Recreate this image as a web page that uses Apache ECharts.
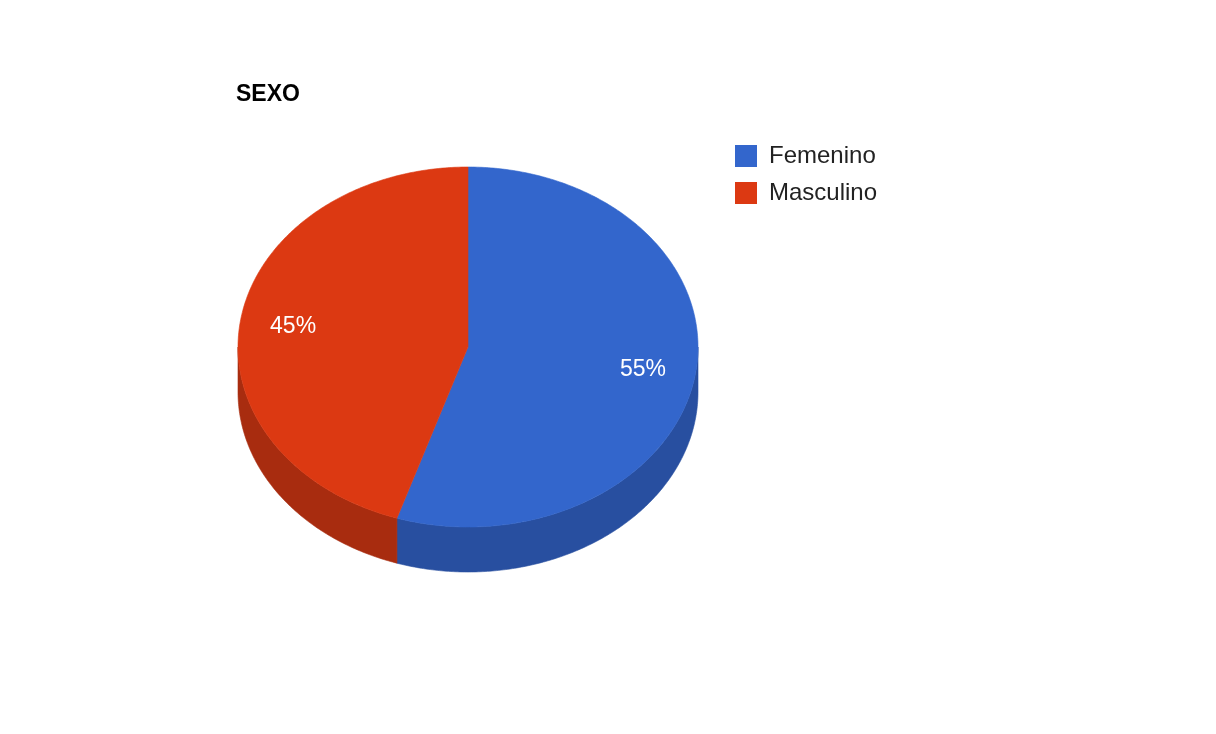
<!DOCTYPE html>
<html>
<head>
<meta charset="utf-8">
<script src="https://cdn.jsdelivr.net/npm/echarts@6/dist/echarts.min.js"></script>
<style>
html,body{margin:0;padding:0;background:#fff;}
#chart{width:1216px;height:734px;}
</style>
</head>
<body>
<div id="chart"></div>
<script>
const categories = ['Femenino', 'Masculino'];
const values = [55, 45];
const colors = ['#3366cc', '#dc3912'];
const sideColors = ['#284fa0', '#a82c0f'];

const total = values.reduce((a, b) => a + b, 0);
const PIE = { cx: 468, cy: 347, rx: 230, ry: 180, depth: 45, labelR: 0.77 };

function pt(theta, dy) {
  return [PIE.cx + PIE.rx * Math.sin(theta), PIE.cy - PIE.ry * Math.cos(theta) + (dy || 0)];
}
function arc(a0, a1, dy) {
  const pts = [];
  const n = Math.max(2, Math.ceil((a1 - a0) / 0.01));
  for (let k = 0; k <= n; k++) pts.push(pt(a0 + (a1 - a0) * k / n, dy));
  return pts;
}

function makeRender(i) {
  return function (params, api) {
    let before = 0;
    for (let j = 0; j < i; j++) before += values[j];
    const v = api.value(0);
    const a0 = before / total * Math.PI * 2;
    const a1 = (before + v) / total * Math.PI * 2;
    const children = [];
    const s = Math.max(a0, Math.PI / 2), e = Math.min(a1, Math.PI * 1.5);
    if (s < e) {
      const top = arc(s, e, 0);
      const bot = arc(s, e, PIE.depth).reverse();
      children.push({
        type: 'polygon',
        shape: { points: top.concat(bot) },
        style: { fill: sideColors[i], stroke: sideColors[i], lineWidth: 0.6 }
      });
    }
    children.push({
      type: 'polygon',
      shape: { points: [[PIE.cx, PIE.cy]].concat(arc(a0, a1, 0)) },
      style: { fill: colors[i], stroke: colors[i], lineWidth: 0.6 }
    });
    const mid = (a0 + a1) / 2;
    children.push({
      type: 'text',
      style: {
        text: Math.round(v / total * 100) + '%',
        x: PIE.cx + PIE.rx * PIE.labelR * Math.sin(mid),
        y: PIE.cy - PIE.ry * PIE.labelR * Math.cos(mid) + 1,
        fill: '#ffffff',
        font: '23px Arial, "Liberation Sans", sans-serif',
        textAlign: 'center',
        textVerticalAlign: 'middle'
      }
    });
    return { type: 'group', children: children };
  };
}

const chart = echarts.init(document.getElementById('chart'), null, { renderer: 'canvas' });
chart.setOption({
  animation: false,
  backgroundColor: '#ffffff',
  title: {
    text: 'SEXO',
    left: 236,
    top: 83,
    padding: 0,
    textStyle: { fontSize: 23, fontWeight: 'bold', color: '#000', fontFamily: 'Arial, "Liberation Sans", sans-serif' }
  },
  legend: {
    left: 735,
    top: 144,
    orient: 'vertical',
    padding: 0,
    itemWidth: 22,
    itemHeight: 22,
    itemGap: 13,
    icon: 'rect',
    selectedMode: false,
    data: categories,
    textStyle: { fontSize: 24, color: '#222', fontFamily: 'Arial, "Liberation Sans", sans-serif', padding: [0, 0, 0, 7] }
  },
  series: categories.map((name, i) => ({
    type: 'custom',
    name: name,
    coordinateSystem: 'none',
    data: [values[i]],
    itemStyle: { color: colors[i] },
    renderItem: makeRender(i)
  }))
});
</script>
</body>
</html>
